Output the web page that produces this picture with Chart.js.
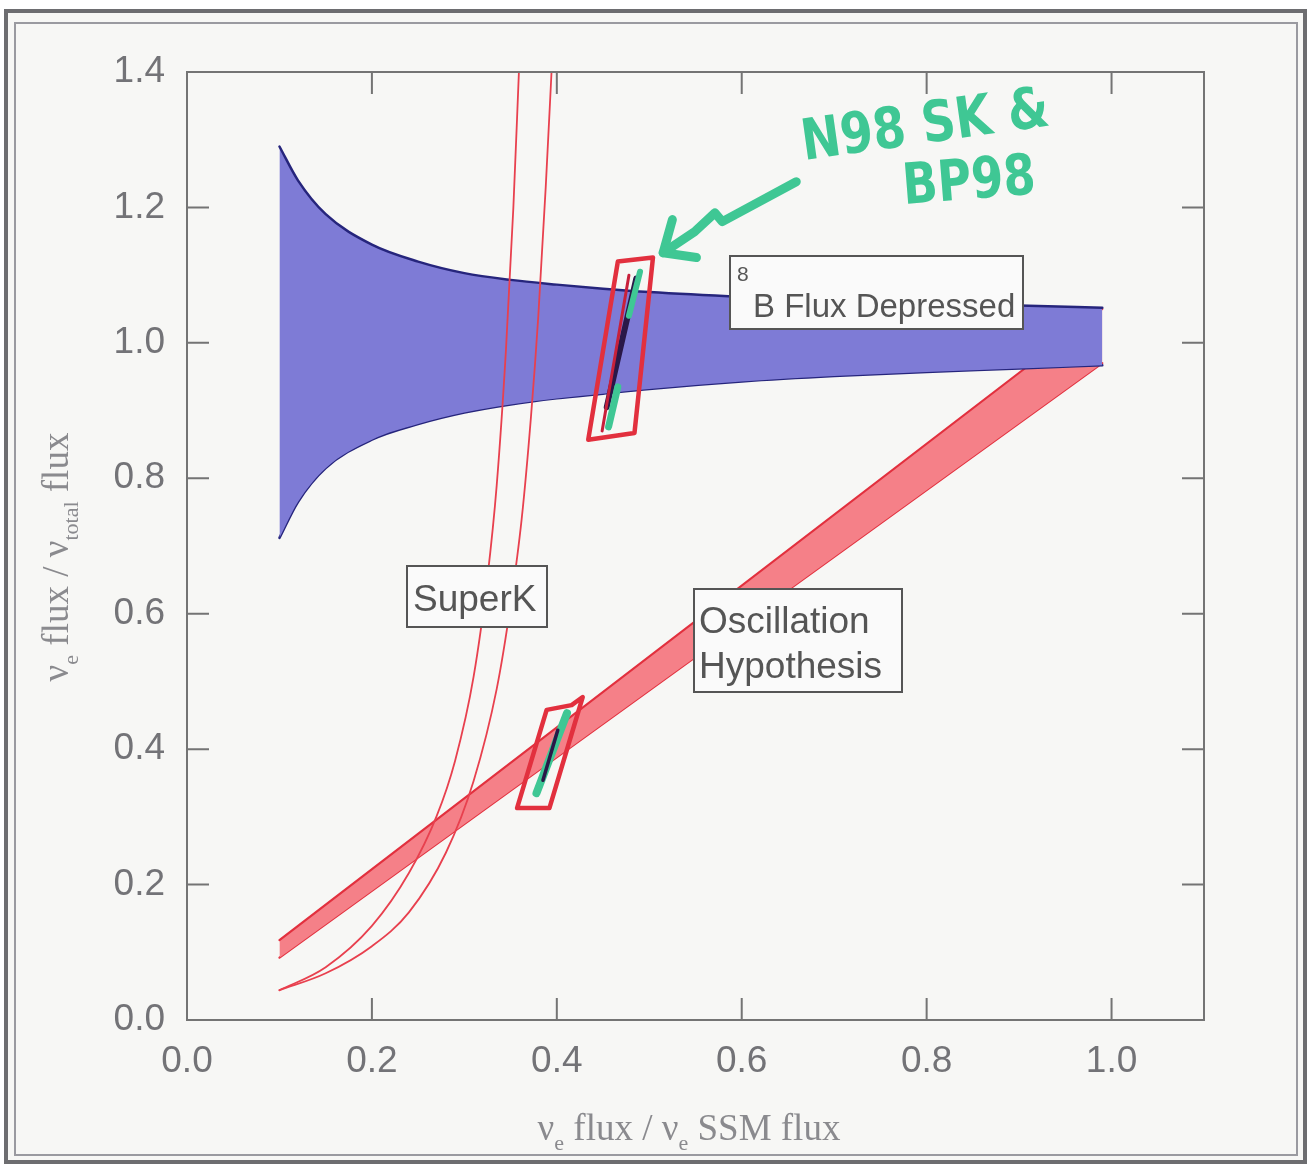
<!DOCTYPE html>
<html><head><meta charset="utf-8">
<script src="https://cdn.jsdelivr.net/npm/chart.js@4.4.1/dist/chart.umd.min.js"></script>
<style>html,body{margin:0;padding:0;background:#fff;}canvas{display:block;}</style>
</head><body>
<canvas id="c" width="1312" height="1169"></canvas>
<script>
// ---- tick values ----
const xTicks = [0.0, 0.2, 0.4, 0.6, 0.8, 1.0];
const yTicks = [0.0, 0.2, 0.4, 0.6, 0.8, 1.0, 1.2, 1.4];

// ---- 8B flux depressed band ----
const bandX     = [0.10, 0.12, 0.15, 0.20, 0.25, 0.30, 0.35, 0.40, 0.45, 0.50, 0.60, 0.70, 0.80, 0.90, 0.99];
const bandUpper = [1.29, 1.24, 1.19, 1.145, 1.12, 1.103, 1.093, 1.086, 1.08, 1.075, 1.068, 1.063, 1.058, 1.055, 1.052];
const bandLower = [0.712, 0.765, 0.815, 0.857, 0.88, 0.897, 0.909, 0.918, 0.925, 0.932, 0.943, 0.951, 0.957, 0.962, 0.967];

// ---- oscillation hypothesis band ----
const oscX     = [0.10, 0.99];
const oscUpper = [0.118, 1.05];
const oscLower = [0.092, 0.97];

// ---- SuperK curves ----
const skInnerX = [0.10, 0.15, 0.20, 0.24, 0.27, 0.29, 0.31, 0.325, 0.335, 0.345, 0.353, 0.359];
const skInnerY = [0.044, 0.078, 0.139, 0.217, 0.301, 0.383, 0.507, 0.654, 0.790, 0.990, 1.200, 1.40];
const skOuterX = [0.10, 0.15, 0.20, 0.24, 0.28, 0.31, 0.335, 0.35, 0.362, 0.372, 0.38, 0.388, 0.395];
const skOuterY = [0.044, 0.069, 0.109, 0.159, 0.247, 0.353, 0.489, 0.613, 0.740, 0.890, 1.04, 1.23, 1.42];

// ---- hand-drawn data boxes (N98 SK & BP98) ----
const hiBoxX  = [0.434, 0.466, 0.504, 0.484, 0.434];
const hiBoxY  = [0.857, 1.120, 1.126, 0.867, 0.857];
const hiLineX = [0.449, 0.478];
const hiLineY = [0.870, 1.100];
const hiDarkX = [0.454, 0.486];
const hiDarkY = [0.905, 1.095];
const hiGreenTopX = [0.478, 0.490];
const hiGreenTopY = [1.040, 1.105];
const hiGreenBotX = [0.456, 0.466];
const hiGreenBotY = [0.876, 0.935];

const loBoxX  = [0.357, 0.389, 0.416, 0.428, 0.392, 0.357];
const loBoxY  = [0.313, 0.458, 0.465, 0.477, 0.313, 0.313];
const loGreenX = [0.378, 0.411];
const loGreenY = [0.335, 0.453];
const loDarkX = [0.385, 0.401];
const loDarkY = [0.354, 0.428];

// ---- hand-drawn arrow ----
const arrowX = [0.659, 0.579, 0.571, 0.549, 0.515];
const arrowY = [1.238, 1.179, 1.192, 1.164, 1.133];
const headX  = [0.525, 0.515, 0.551];
const headY  = [1.182, 1.133, 1.126];

const pts = (xs, ys) => xs.map((x, i) => ({x, y: ys[i]}));

const RED = '#e2303e', PINK = 'rgba(245,128,136,1)';
const GREEN = '#3fc794';

function line(data, color, width, order, extra) {
  return Object.assign({data, showLine: true, borderColor: color, borderWidth: width,
    pointRadius: 0, fill: false, tension: 0, order, borderJoinStyle: 'round', borderCapStyle: 'round'}, extra || {});
}

const datasets = [
  // oscillation band (bottom)
  line(pts(oscX, oscLower), RED, 2.2, 20),
  line(pts(oscX, oscUpper), RED, 2.2, 19, {fill: '-1', backgroundColor: PINK}),
  // 8B band
  line(pts(bandX, bandLower), '#26257c', 2.5, 18, {cubicInterpolationMode: 'monotone'}),
  line(pts(bandX, bandUpper), '#26257c', 2.5, 17, {cubicInterpolationMode: 'monotone', fill: '-1', backgroundColor: 'rgb(126,123,214)'}),
  // SuperK
  line(pts(skInnerX, skInnerY), '#e8404e', 1.8, 10, {cubicInterpolationMode: 'monotone'}),
  line(pts(skOuterX, skOuterY), '#e8404e', 1.8, 10, {cubicInterpolationMode: 'monotone'}),
  // hand-drawn marks
  line(pts(hiDarkX, hiDarkY), '#2a1848', 6, 6),
  line(pts(hiGreenTopX, hiGreenTopY), GREEN, 6, 5),
  line(pts(hiGreenBotX, hiGreenBotY), GREEN, 7, 5),
  line(pts(hiBoxX, hiBoxY), RED, 4.5, 4),
  line(pts(hiLineX, hiLineY), '#c8203a', 3, 4),
  line(pts(loGreenX, loGreenY), GREEN, 8, 6),
  line(pts(loDarkX, loDarkY), '#2a1848', 3.5, 5),
  line(pts(loBoxX, loBoxY), RED, 4.5, 4),
  line(pts(arrowX, arrowY), GREEN, 9, 3),
  line(pts(headX, headY), GREEN, 9, 3),
];

const TICK_LEN = 22;

const decor = {
  id: 'decor',
  beforeDraw(chart) {
    const c = chart.ctx;
    c.save();
    c.fillStyle = '#ffffff';
    c.fillRect(0, 0, chart.width, chart.height);
    c.fillStyle = '#f7f7f5';
    c.fillRect(8, 12, 1296, 1148);
    c.strokeStyle = '#6d6d70'; c.lineWidth = 4;
    c.strokeRect(6, 11, 1299, 1151);
    c.strokeStyle = '#9a9aa0'; c.lineWidth = 2;
    c.strokeRect(15, 23, 1282, 1132);
    c.restore();
  },
  afterDatasetsDraw(chart) {
    const c = chart.ctx, a = chart.chartArea;
    const xs = chart.scales.x, ys = chart.scales.y;
    c.save();
    // text boxes
    const box = (x, y, w, h) => {
      c.fillStyle = '#fafafa'; c.fillRect(x, y, w, h);
      c.strokeStyle = '#555'; c.lineWidth = 2; c.strokeRect(x, y, w, h);
    };
    box(730, 256, 293, 73);
    c.fillStyle = '#555'; c.textBaseline = 'alphabetic'; c.textAlign = 'left';
    c.font = '21px "Liberation Sans"'; c.fillText('8', 737, 281);
    c.font = '33px "Liberation Sans"'; c.fillText('B Flux Depressed', 753, 317);
    box(407, 566, 140, 61);
    c.fillStyle = '#555'; c.font = '37px "Liberation Sans"'; c.fillText('SuperK', 413, 611);
    box(694, 589, 208, 103);
    c.fillStyle = '#555'; c.fillText('Oscillation', 699, 633); c.fillText('Hypothesis', 699, 678);

    // plot frame and inward ticks
    c.strokeStyle = '#747474'; c.lineWidth = 2;
    c.strokeRect(a.left, a.top, a.right - a.left, a.bottom - a.top);
    c.beginPath();
    xTicks.forEach(v => {
      const p = xs.getPixelForValue(v);
      c.moveTo(p, a.bottom); c.lineTo(p, a.bottom - TICK_LEN);
      c.moveTo(p, a.top); c.lineTo(p, a.top + TICK_LEN);
    });
    yTicks.forEach(v => {
      const p = ys.getPixelForValue(v);
      c.moveTo(a.left, p); c.lineTo(a.left + TICK_LEN, p);
      c.moveTo(a.right, p); c.lineTo(a.right - TICK_LEN, p);
    });
    c.stroke();
    c.restore();
  },
  afterDraw(chart) {
    const c = chart.ctx;
    c.save();
    // axis titles with subscripts
    const serif = '"Liberation Serif"';
    const parts = (segs, size) => segs.map(s => ({t: s[0], sub: s[1], font: (s[1] ? Math.round(size * 0.6) : size) + 'px ' + serif}));
    const drawRich = (segs, cx, by, size) => {
      const ps = parts(segs, size);
      let w = 0; ps.forEach(p => { c.font = p.font; p.w = c.measureText(p.t).width; w += p.w; });
      let x = cx - w / 2;
      ps.forEach(p => { c.font = p.font; c.fillText(p.t, x, by + (p.sub ? size * 0.28 : 0)); x += p.w; });
    };
    c.fillStyle = '#8a8a8e'; c.textAlign = 'left'; c.textBaseline = 'alphabetic';
    drawRich([['ν', 0], ['e', 1], [' flux / ν', 0], ['e', 1], [' SSM flux', 0]], 689, 1140, 37);
    c.save();
    c.translate(68, 557); c.rotate(-Math.PI / 2);
    drawRich([['ν', 0], ['e', 1], [' flux / ν', 0], ['total', 1], [' flux', 0]], 0, 0, 37);
    c.restore();

    // handwritten annotation
    c.fillStyle = GREEN;
    c.font = 'bold 54px "DejaVu Sans Condensed", "DejaVu Sans"';
    c.save(); c.translate(804, 160); c.rotate(-0.14); c.scale(0.97, 1.05);
    c.fillText('N98 SK &', 0, 0); c.restore();
    c.save(); c.translate(904, 204); c.rotate(-0.08); c.scale(0.95, 1.05);
    c.fillText('BP98', 0, 0); c.restore();
    c.restore();
  }
};

new Chart(document.getElementById('c'), {
  type: 'scatter',
  data: {datasets},
  options: {
    responsive: false, animation: false, devicePixelRatio: 1,
    layout: {padding: {left: 0, right: 108, top: 72, bottom: 0}},
    plugins: {legend: {display: false}, tooltip: {enabled: false}},
    scales: {
      x: {
        type: 'linear', min: 0, max: 1.1,
        afterBuildTicks: s => { s.ticks = xTicks.map(v => ({value: v})); },
        afterFit: s => { s.height = 149; },
        grid: {display: false, drawTicks: false}, border: {display: false},
        ticks: {padding: 20, autoSkip: false, maxRotation: 0, color: '#737377',
          font: {family: 'Liberation Sans', size: 37}, callback: v => Number(v).toFixed(1)}
      },
      y: {
        type: 'linear', min: 0, max: 1.4,
        afterBuildTicks: s => { s.ticks = yTicks.map(v => ({value: v})); },
        afterFit: s => { s.width = 187; },
        grid: {display: false, drawTicks: false}, border: {display: false},
        ticks: {padding: 22, autoSkip: false, color: '#737377',
          font: {family: 'Liberation Sans', size: 37}, callback: v => Number(v).toFixed(1)}
      }
    }
  },
  plugins: [decor]
});
</script>
</body></html>
